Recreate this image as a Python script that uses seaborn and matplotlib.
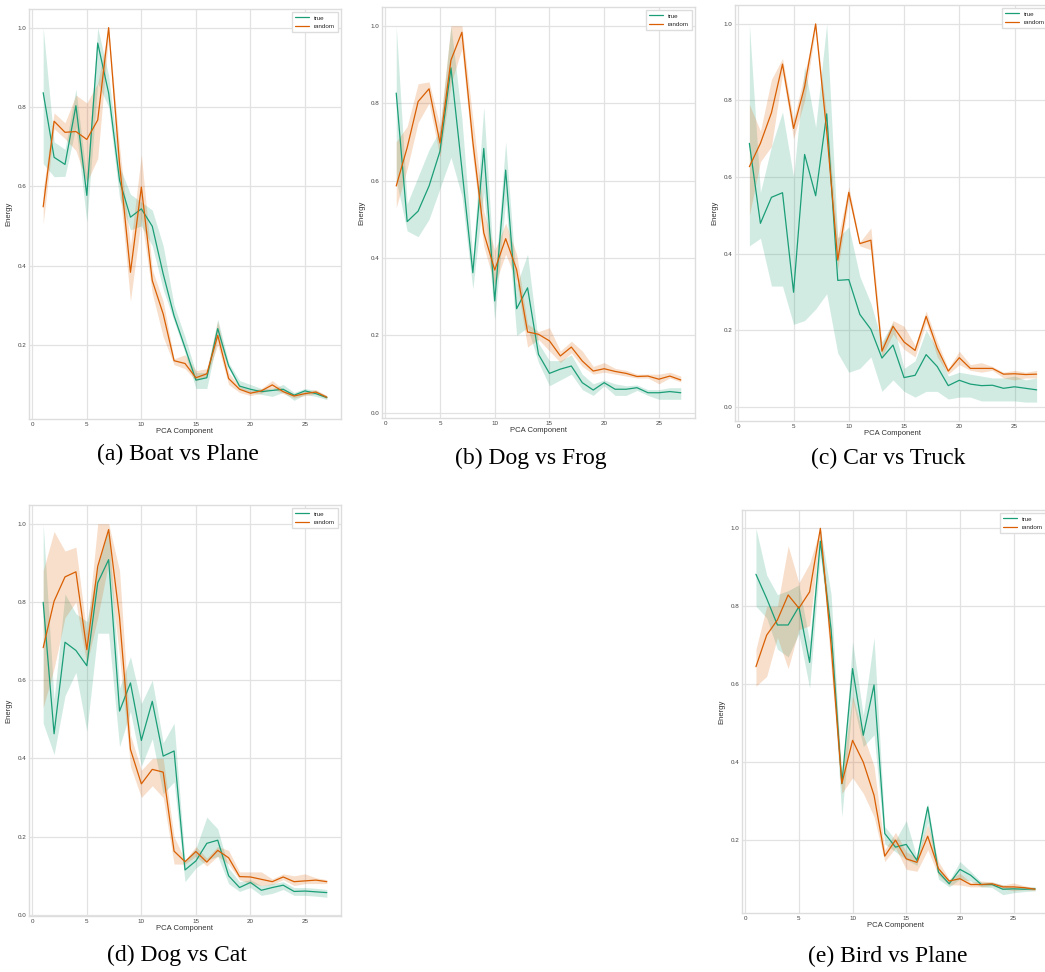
import numpy as np
import pandas as pd
import matplotlib
matplotlib.use("Agg")
import matplotlib.pyplot as plt
import seaborn as sns

# PCA component index shared by every panel
components = list(range(1, 28))

# ---- (a) Boat vs Plane ----
boat_true_mean = [0.836, 0.673, 0.655, 0.803, 0.577, 0.961, 0.835, 0.615, 0.522, 0.543, 0.499, 0.379, 0.273, 0.193,
                  0.111, 0.117, 0.241, 0.147, 0.096, 0.088, 0.082, 0.085, 0.088, 0.073, 0.084, 0.077, 0.067]
boat_true_lo = [0.657, 0.624, 0.625, 0.750, 0.510, 0.860, 0.800, 0.570, 0.490, 0.500, 0.450, 0.340, 0.260, 0.180,
                0.090, 0.090, 0.220, 0.140, 0.090, 0.080, 0.075, 0.070, 0.080, 0.060, 0.075, 0.070, 0.062]
boat_true_hi = [1.000, 0.712, 0.693, 0.845, 0.620, 1.000, 0.880, 0.650, 0.580, 0.560, 0.540, 0.450, 0.300, 0.220,
                0.130, 0.130, 0.265, 0.155, 0.110, 0.100, 0.090, 0.090, 0.100, 0.080, 0.090, 0.085, 0.072]
boat_rand_mean = [0.548, 0.764, 0.736, 0.738, 0.718, 0.767, 1.000, 0.657, 0.383, 0.598, 0.362, 0.278, 0.160, 0.153,
                  0.117, 0.127, 0.224, 0.115, 0.088, 0.078, 0.084, 0.099, 0.082, 0.071, 0.077, 0.081, 0.068]
boat_rand_lo = [0.505, 0.745, 0.720, 0.690, 0.610, 0.670, 0.980, 0.600, 0.310, 0.520, 0.330, 0.220, 0.150, 0.140,
                0.110, 0.120, 0.200, 0.100, 0.080, 0.072, 0.078, 0.090, 0.077, 0.066, 0.072, 0.076, 0.064]
boat_rand_hi = [0.590, 0.785, 0.760, 0.830, 0.810, 0.860, 1.000, 0.700, 0.450, 0.680, 0.390, 0.310, 0.165, 0.175,
                0.135, 0.140, 0.260, 0.130, 0.095, 0.085, 0.090, 0.110, 0.088, 0.077, 0.083, 0.087, 0.072]

# ---- (b) Dog vs Frog ----
frog_true_mean = [0.826, 0.494, 0.521, 0.586, 0.676, 0.891, 0.630, 0.362, 0.683, 0.289, 0.627, 0.269, 0.323, 0.151,
                  0.102, 0.113, 0.121, 0.078, 0.059, 0.078, 0.061, 0.061, 0.065, 0.052, 0.052, 0.055, 0.052]
frog_true_lo = [0.600, 0.470, 0.455, 0.500, 0.580, 0.660, 0.560, 0.320, 0.570, 0.240, 0.550, 0.200, 0.220, 0.130,
                0.070, 0.085, 0.100, 0.060, 0.045, 0.070, 0.045, 0.045, 0.058, 0.045, 0.035, 0.035, 0.035]
frog_true_hi = [1.000, 0.540, 0.610, 0.680, 0.730, 1.000, 0.760, 0.400, 0.790, 0.340, 0.700, 0.330, 0.410, 0.180,
                0.135, 0.135, 0.150, 0.100, 0.075, 0.085, 0.075, 0.070, 0.072, 0.060, 0.060, 0.065, 0.065]
frog_rand_mean = [0.586, 0.685, 0.804, 0.837, 0.697, 0.911, 0.983, 0.700, 0.465, 0.369, 0.450, 0.370, 0.209, 0.203,
                  0.186, 0.147, 0.170, 0.134, 0.108, 0.114, 0.107, 0.102, 0.094, 0.095, 0.087, 0.095, 0.085]
frog_rand_lo = [0.530, 0.630, 0.750, 0.800, 0.660, 0.850, 0.940, 0.660, 0.430, 0.330, 0.410, 0.340, 0.170, 0.190,
                0.160, 0.130, 0.155, 0.120, 0.100, 0.105, 0.100, 0.095, 0.090, 0.090, 0.075, 0.090, 0.080]
frog_rand_hi = [0.700, 0.740, 0.850, 0.855, 0.740, 1.000, 1.000, 0.760, 0.520, 0.420, 0.490, 0.410, 0.230, 0.210,
                0.220, 0.160, 0.185, 0.160, 0.120, 0.130, 0.115, 0.110, 0.100, 0.100, 0.100, 0.105, 0.095]

# ---- (c) Car vs Truck ----
truck_true_mean = [0.688, 0.479, 0.547, 0.559, 0.299, 0.659, 0.551, 0.765, 0.330, 0.332, 0.241, 0.202, 0.127, 0.161,
                   0.076, 0.082, 0.136, 0.105, 0.055, 0.069, 0.059, 0.055, 0.056, 0.048, 0.052, 0.048, 0.044]
truck_true_lo = [0.420, 0.440, 0.315, 0.315, 0.215, 0.225, 0.255, 0.295, 0.140, 0.090, 0.100, 0.130, 0.040, 0.070,
                 0.040, 0.025, 0.040, 0.040, 0.020, 0.025, 0.025, 0.015, 0.015, 0.015, 0.015, 0.012, 0.012]
truck_true_hi = [1.000, 0.560, 0.680, 0.770, 0.600, 0.890, 0.730, 1.000, 0.440, 0.470, 0.340, 0.270, 0.170, 0.220,
                 0.100, 0.120, 0.200, 0.150, 0.080, 0.090, 0.085, 0.080, 0.075, 0.075, 0.080, 0.070, 0.075]
truck_rand_mean = [0.627, 0.688, 0.768, 0.895, 0.727, 0.836, 1.000, 0.720, 0.383, 0.560, 0.426, 0.435, 0.145, 0.210,
                   0.169, 0.147, 0.236, 0.153, 0.093, 0.128, 0.100, 0.100, 0.100, 0.085, 0.086, 0.084, 0.085]
truck_rand_lo = [0.500, 0.640, 0.680, 0.870, 0.700, 0.800, 0.990, 0.700, 0.360, 0.540, 0.420, 0.410, 0.130, 0.190,
                 0.150, 0.130, 0.220, 0.130, 0.085, 0.110, 0.095, 0.090, 0.095, 0.075, 0.070, 0.075, 0.075]
truck_rand_hi = [0.790, 0.720, 0.855, 0.910, 0.750, 0.870, 1.000, 0.760, 0.440, 0.575, 0.430, 0.467, 0.160, 0.225,
                 0.210, 0.160, 0.250, 0.170, 0.100, 0.145, 0.110, 0.115, 0.105, 0.090, 0.095, 0.090, 0.095]

# ---- (d) Dog vs Cat ----
cat_true_mean = [0.799, 0.463, 0.697, 0.676, 0.637, 0.849, 0.908, 0.521, 0.593, 0.446, 0.546, 0.406, 0.419, 0.115,
                 0.138, 0.183, 0.191, 0.100, 0.070, 0.083, 0.063, 0.070, 0.076, 0.060, 0.061, 0.059, 0.057]
cat_true_lo = [0.490, 0.410, 0.560, 0.620, 0.470, 0.720, 0.720, 0.430, 0.520, 0.380, 0.450, 0.310, 0.340, 0.085,
               0.120, 0.140, 0.150, 0.080, 0.060, 0.070, 0.050, 0.055, 0.065, 0.050, 0.050, 0.048, 0.045]
cat_true_hi = [1.000, 0.550, 0.820, 0.770, 0.750, 0.890, 0.990, 0.580, 0.660, 0.540, 0.600, 0.440, 0.490, 0.140,
               0.170, 0.250, 0.220, 0.120, 0.085, 0.090, 0.075, 0.080, 0.085, 0.070, 0.070, 0.068, 0.065]
cat_rand_mean = [0.683, 0.802, 0.864, 0.877, 0.678, 0.891, 0.985, 0.760, 0.423, 0.335, 0.372, 0.365, 0.163, 0.136,
                 0.162, 0.135, 0.165, 0.146, 0.098, 0.097, 0.091, 0.085, 0.097, 0.085, 0.087, 0.089, 0.085]
cat_rand_lo = [0.530, 0.630, 0.760, 0.800, 0.640, 0.760, 0.900, 0.660, 0.380, 0.300, 0.330, 0.300, 0.130, 0.130,
               0.150, 0.125, 0.150, 0.130, 0.090, 0.080, 0.075, 0.078, 0.090, 0.075, 0.080, 0.080, 0.080]
cat_rand_hi = [0.880, 0.980, 0.930, 0.940, 0.720, 1.000, 1.000, 0.880, 0.460, 0.370, 0.400, 0.400, 0.200, 0.140,
               0.175, 0.145, 0.175, 0.165, 0.110, 0.110, 0.110, 0.092, 0.105, 0.100, 0.105, 0.095, 0.090]

# ---- (e) Bird vs Plane ----
bird_true_mean = [0.882, 0.820, 0.752, 0.752, 0.799, 0.656, 0.967, 0.740, 0.345, 0.640, 0.469, 0.598, 0.217, 0.182,
                  0.189, 0.148, 0.285, 0.118, 0.088, 0.125, 0.110, 0.086, 0.086, 0.074, 0.075, 0.074, 0.075]
bird_true_lo = [0.800, 0.770, 0.690, 0.670, 0.730, 0.590, 0.930, 0.700, 0.260, 0.560, 0.440, 0.470, 0.190, 0.170,
                0.150, 0.135, 0.245, 0.100, 0.080, 0.100, 0.095, 0.080, 0.078, 0.060, 0.065, 0.068, 0.070]
bird_true_hi = [1.000, 0.880, 0.830, 0.840, 0.855, 0.710, 1.000, 0.830, 0.350, 0.710, 0.520, 0.720, 0.235, 0.200,
                0.250, 0.155, 0.295, 0.130, 0.095, 0.145, 0.120, 0.092, 0.092, 0.085, 0.080, 0.080, 0.080]
bird_rand_mean = [0.645, 0.726, 0.765, 0.829, 0.795, 0.837, 1.000, 0.700, 0.345, 0.456, 0.400, 0.315, 0.159, 0.200,
                  0.152, 0.143, 0.210, 0.127, 0.095, 0.101, 0.086, 0.086, 0.088, 0.080, 0.080, 0.078, 0.074]
bird_rand_lo = [0.595, 0.620, 0.720, 0.640, 0.740, 0.750, 0.990, 0.640, 0.320, 0.360, 0.320, 0.260, 0.145, 0.180,
                0.125, 0.120, 0.175, 0.110, 0.085, 0.085, 0.080, 0.080, 0.083, 0.075, 0.070, 0.073, 0.070]
bird_rand_hi = [0.690, 0.800, 0.800, 0.955, 0.860, 0.910, 1.000, 0.750, 0.370, 0.570, 0.470, 0.390, 0.175, 0.220,
                0.170, 0.155, 0.240, 0.145, 0.100, 0.115, 0.092, 0.095, 0.093, 0.085, 0.090, 0.083, 0.078]

captions = ["(a) Boat vs Plane", "(b) Dog vs Frog", "(c) Car vs Truck", "(d) Dog vs Cat", "(e) Bird vs Plane"]
series_labels = ["true", "random"]

panels = [
    (boat_true_lo, boat_true_mean, boat_true_hi, boat_rand_lo, boat_rand_mean, boat_rand_hi),
    (frog_true_lo, frog_true_mean, frog_true_hi, frog_rand_lo, frog_rand_mean, frog_rand_hi),
    (truck_true_lo, truck_true_mean, truck_true_hi, truck_rand_lo, truck_rand_mean, truck_rand_hi),
    (cat_true_lo, cat_true_mean, cat_true_hi, cat_rand_lo, cat_rand_mean, cat_rand_hi),
    (bird_true_lo, bird_true_mean, bird_true_hi, bird_rand_lo, bird_rand_mean, bird_rand_hi),
]

W, H = 1045, 972
# axes boxes in pixels: left, right, top, bottom
boxes = [(29, 341, 9, 419), (382, 695, 7, 418), (735, 1051, 5, 421),
         (29, 341, 505, 916), (742, 1049, 510, 913)]
# caption centres in pixels
caption_pos = [(178, 454), (531, 458), (888, 458), (177, 955), (888, 956)]

sns.set_theme(style="whitegrid")
plt.rcParams["font.family"] = ["Liberation Sans", "DejaVu Sans"]
palette = {"true": "#1b9e77", "random": "#d95f02"}

fig = plt.figure(figsize=(W / 100, H / 100), dpi=100)


def long_frame(t_lo, t_mid, t_hi, r_lo, r_mid, r_hi):
    rows = []
    for lab, trio in (("true", (t_lo, t_mid, t_hi)), ("random", (r_lo, r_mid, r_hi))):
        for vals in trio:
            for c, v in zip(components, vals):
                rows.append({"PCA Component": c, "Energy": v, "kind": lab})
    return pd.DataFrame(rows)


for (l, r, t, b), data, cap, (cx, cy) in zip(boxes, panels, captions, caption_pos):
    ax = fig.add_axes([l / W, 1 - b / H, (r - l) / W, (b - t) / H])
    df = long_frame(*data)
    sns.lineplot(data=df, x="PCA Component", y="Energy", hue="kind",
                 hue_order=series_labels, palette=palette,
                 estimator="median", errorbar=("pi", 100),
                 linewidth=0.9, err_kws={"alpha": 0.2, "linewidth": 0}, ax=ax)
    ax.tick_params(labelsize=4.5, colors="#444444", pad=2, length=0)
    ax.set_xlabel("PCA Component", fontsize=5.5, labelpad=1, color="#333333")
    ax.set_ylabel("Energy", fontsize=5.5, labelpad=4, color="#333333")
    ax.set_xticks([0, 5, 10, 15, 20, 25])
    for s in ax.spines.values():
        s.set_color("#dddddd")
        s.set_linewidth(1.0)
    ax.grid(color="#e2e2e2", linewidth=0.9)
    handles, labels = ax.get_legend_handles_labels()
    ax.legend(handles, labels, loc="upper right", fontsize=4.5, frameon=True,
              handlelength=2.2, handletextpad=0.8, borderpad=0.5, labelspacing=0.5,
              framealpha=1, edgecolor="#dddddd", fancybox=False)
    fig.text(cx / W, 1 - cy / H, cap, ha="center", va="center",
             fontsize=17, family="Liberation Serif", color="black")

fig.savefig("out.png", dpi=100)
